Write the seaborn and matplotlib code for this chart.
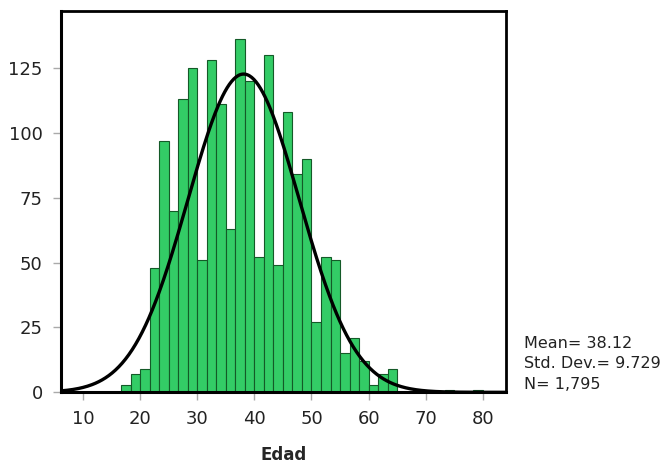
import numpy as np
import pandas as pd
import matplotlib
matplotlib.use("Agg")
import matplotlib.pyplot as plt
import seaborn as sns

# Bin layout (SPSS histogram, bin width 5/3 years)
bin_width = 5 / 3
first_edge = 50 / 3          # 16.67
# Counts per bin, starting at 16.67 and stepping by bin_width
counts = [3, 7, 9, 48, 97, 70, 113, 125, 51, 128, 111, 63, 136, 120, 52, 130,
          49, 108, 84, 90, 27, 52, 51, 15, 21, 12, 3, 7, 9,
          0, 0, 0, 0, 0, 1, 0, 0, 1]

mean_age = 38.12
sd_age = 9.729
n_total = 1795

x_ticks = [10, 20, 30, 40, 50, 60, 70, 80]
y_ticks = [0, 25, 50, 75, 100, 125]
x_label = "Edad"
stats_lines = ["Mean= 38.12", "Std. Dev.= 9.729", "N= 1,795"]

edges = first_edge + bin_width * np.arange(len(counts) + 1)
centers = (edges[:-1] + edges[1:]) / 2
df = pd.DataFrame({"Edad": centers, "count": counts})

sns.set_theme(style="white")
plt.rcParams["font.family"] = ["DejaVu Sans"]

fig = plt.figure(figsize=(6.68, 4.72), dpi=100)
ax = fig.add_axes([0.0909, 0.1688, 0.667, 0.808])

sns.histplot(data=df, x="Edad", weights="count", binwidth=bin_width,
             binrange=(float(edges[0]), float(edges[-1])), ax=ax,
             color="#33cc66", edgecolor="#145a28", linewidth=0.8, alpha=1.0)

xs = np.linspace(6.1, 84.1, 400)
pdf = n_total * bin_width * np.exp(-0.5 * ((xs - mean_age) / sd_age) ** 2) / (sd_age * np.sqrt(2 * np.pi))
sns.lineplot(x=xs, y=pdf, ax=ax, color="black", linewidth=2.4)

ax.set_xlim(6.1, 84.1)
ax.set_ylim(0, 147)
ax.set_xticks(x_ticks)
ax.set_yticks(y_ticks)
ax.set_xticklabels([str(v) for v in x_ticks], fontsize=13, color="#222222")
ax.set_yticklabels([str(v) for v in y_ticks], fontsize=13, color="#222222")
ax.tick_params(axis="both", which="both", direction="out", length=6, width=1,
               color="#aaaaaa", pad=7, left=True, bottom=True)
ax.set_xlabel(x_label, fontsize=12, fontweight="bold", labelpad=13)
ax.set_ylabel("")

for side in ["left", "bottom", "top", "right"]:
    ax.spines[side].set_visible(True)
    ax.spines[side].set_color("black")
ax.spines["left"].set_linewidth(2.2)
ax.spines["bottom"].set_linewidth(2.2)
ax.spines["top"].set_linewidth(2.0)
ax.spines["right"].set_linewidth(2.0)

for i, line in enumerate(stats_lines):
    fig.text(0.784, 0.273 - i * 0.0435, line, fontsize=11.5, color="#222222",
             va="center", ha="left")

fig.savefig("out.png", dpi=100)
